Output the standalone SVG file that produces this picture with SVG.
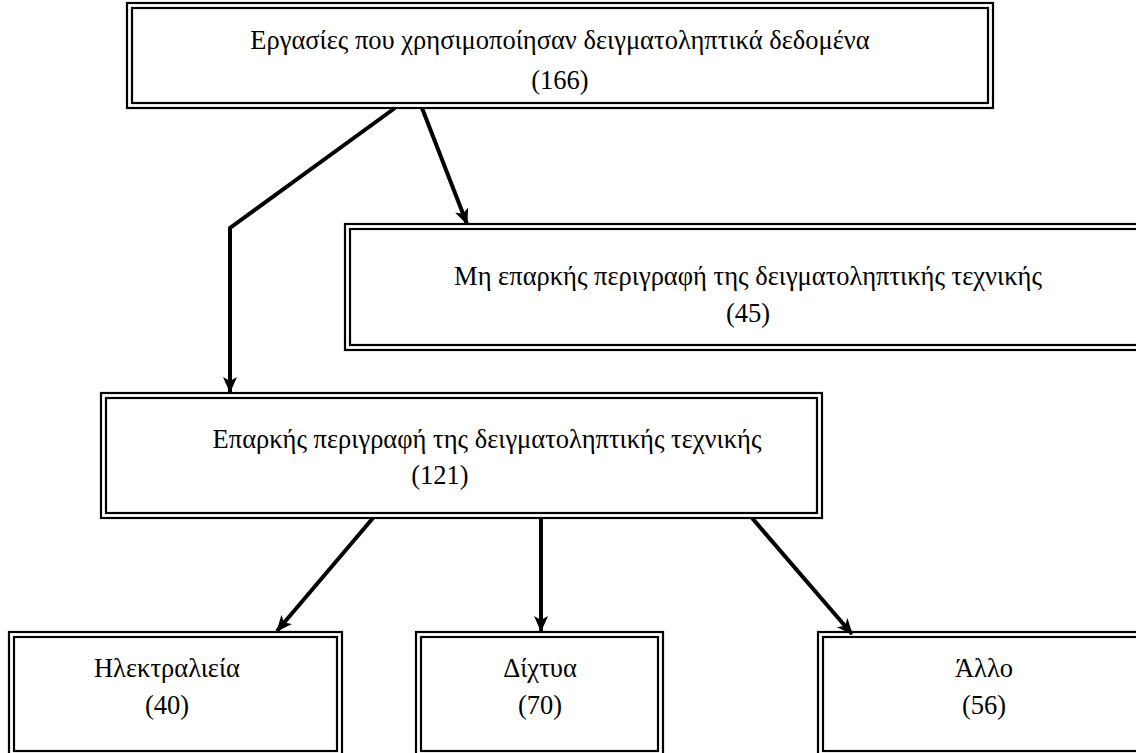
<svg xmlns="http://www.w3.org/2000/svg" width="1136" height="753" viewBox="0 0 1136 753">
<style>
.o{fill:#fff;stroke:#000;stroke-width:2.2}
.i{fill:none;stroke:#000;stroke-width:2.2}
.t{font-family:"Liberation Serif","Times New Roman",serif;font-size:26.5px;fill:#000;text-anchor:middle}
.c{fill:none;stroke:#000;stroke-width:4;stroke-linejoin:miter}
</style>
<defs>
<marker id="ah" viewBox="0 0 16 14" refX="15" refY="7" markerWidth="16" markerHeight="14" markerUnits="userSpaceOnUse" orient="auto">
<path d="M0,0 L16,7 L0,14 L4,7 Z" fill="#000"/>
</marker>
</defs>
<g id="n1">
<rect class="o" x="127" y="3" width="866" height="105"/>
<rect class="i" x="132" y="8" width="856" height="95"/>
<text class="t" x="560" y="49">Εργασίες που χρησιμοποίησαν δειγματοληπτικά δεδομένα</text>
<text class="t" x="560" y="89">(166)</text>
</g>
<g id="n2">
<rect class="o" x="345" y="224" width="800" height="126"/>
<rect class="i" x="350" y="229" width="790" height="116"/>
<text class="t" x="748" y="285">Μη επαρκής περιγραφή της δειγματοληπτικής τεχνικής</text>
<text class="t" x="748" y="322">(45)</text>
</g>
<g id="n3">
<rect class="o" x="101" y="393" width="721" height="125"/>
<rect class="i" x="106" y="398" width="711" height="115"/>
<text class="t" x="487" y="448">Επαρκής περιγραφή της δειγματοληπτικής τεχνικής</text>
<text class="t" x="440" y="484">(121)</text>
</g>
<g id="n4">
<rect class="o" x="9" y="632" width="333" height="124"/>
<rect class="i" x="14" y="637" width="323" height="114"/>
<text class="t" x="167" y="677">Ηλεκτραλιεία</text>
<text class="t" x="167" y="714">(40)</text>
</g>
<g id="n5">
<rect class="o" x="416" y="632" width="247" height="124"/>
<rect class="i" x="421" y="637" width="237" height="114"/>
<text class="t" x="540" y="677">Δίχτυα</text>
<text class="t" x="540" y="714">(70)</text>
</g>
<g id="n6">
<rect class="o" x="818" y="632" width="330" height="124"/>
<rect class="i" x="823" y="637" width="320" height="114"/>
<text class="t" x="984" y="677">Άλλο</text>
<text class="t" x="984" y="714">(56)</text>
</g>
<g id="connectors">
<polyline class="c" points="395,108 230,228 230,392" marker-end="url(#ah)"/>
<line class="c" x1="422" y1="108" x2="467" y2="224" marker-end="url(#ah)"/>
<line class="c" x1="373" y1="518" x2="277" y2="631" marker-end="url(#ah)"/>
<line class="c" x1="541" y1="518" x2="541" y2="631" marker-end="url(#ah)"/>
<line class="c" x1="752" y1="518" x2="852" y2="634" marker-end="url(#ah)"/>
</g>
</svg>
